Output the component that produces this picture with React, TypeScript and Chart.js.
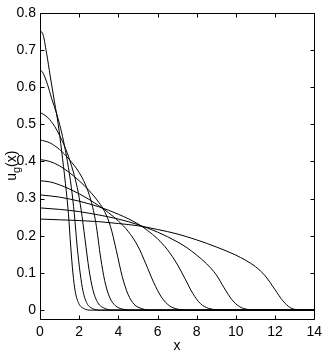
import React, { useEffect, useRef } from 'react';
import { Chart, registerables } from 'chart.js';

Chart.register(...registerables);

const FONT = "'Liberation Sans', Arial, Helvetica, sans-serif";

const xMin = 0;
const xMax = 14;
const yMin = -0.023;
const yMax = 0.8;
const xTicks = [0, 2, 4, 6, 8, 10, 12, 14];
const xTickLabels = ['0', '2', '4', '6', '8', '10', '12', '14'];
const yTicks = [0, 0.1, 0.2, 0.3, 0.4, 0.5, 0.6, 0.7, 0.8];
const yTickLabels = ['0', '0.1', '0.2', '0.3', '0.4', '0.5', '0.6', '0.7', '0.8'];
const xTitle = 'x';
const yTitleMain = 'u';
const yTitleSub = 'g';
const yTitleTail = '(x)';

// Profiles u_g(x) as [x, u] pairs
const curveA: [number, number][] = [
  [0, 0.75], [0.13, 0.745], [0.34, 0.69], [0.52, 0.63], [0.74, 0.56], [0.93, 0.5],
  [1.1, 0.43], [1.3, 0.34], [1.45, 0.26], [1.57, 0.17], [1.68, 0.1], [1.8, 0.05],
  [1.98, 0.018], [2.25, 0.004], [2.6, 0], [14, 0],
];
const curveB: [number, number][] = [
  [0, 0.645], [0.13, 0.64], [0.39, 0.606], [0.59, 0.57], [0.84, 0.53], [1.0, 0.5],
  [1.2, 0.455], [1.4, 0.4], [1.6, 0.33], [1.75, 0.26], [1.9, 0.17], [2.05, 0.1],
  [2.2, 0.05], [2.4, 0.018], [2.7, 0.004], [3.1, 0], [14, 0],
];
const curveC: [number, number][] = [
  [0, 0.532], [0.4, 0.518], [0.75, 0.494], [1.0, 0.47], [1.3, 0.435], [1.6, 0.39],
  [1.9, 0.33], [2.1, 0.27], [2.3, 0.19], [2.5, 0.11], [2.7, 0.055], [2.95, 0.02],
  [3.3, 0.005], [3.7, 0], [14, 0],
];
const curveD: [number, number][] = [
  [0, 0.458], [0.5, 0.45], [1.0, 0.432], [1.5, 0.405], [2.0, 0.37], [2.3, 0.34],
  [2.6, 0.295], [2.85, 0.235], [3.1, 0.14], [3.3, 0.08], [3.55, 0.035], [3.85, 0.012],
  [4.2, 0.003], [4.6, 0], [14, 0],
];
const curveE: [number, number][] = [
  [0, 0.405], [0.5, 0.4], [1.0, 0.388], [1.5, 0.37], [2.0, 0.348], [2.5, 0.322],
  [3.0, 0.29], [3.3, 0.265], [3.6, 0.225], [3.9, 0.16], [4.2, 0.09], [4.5, 0.042],
  [4.8, 0.016], [5.2, 0.004], [5.6, 0], [14, 0],
];
const curveF: [number, number][] = [
  [0, 0.348], [0.5, 0.345], [1.0, 0.337], [1.5, 0.326], [2.0, 0.313], [2.5, 0.298],
  [3.0, 0.281], [3.5, 0.262], [4.0, 0.24], [4.5, 0.212], [5.0, 0.172], [5.4, 0.125],
  [5.8, 0.075], [6.2, 0.035], [6.6, 0.012], [7.0, 0.003], [7.5, 0], [14, 0],
];
const curveG: [number, number][] = [
  [0, 0.31], [1, 0.304], [2, 0.293], [3, 0.278], [4, 0.258], [5, 0.232], [5.5, 0.214],
  [6, 0.192], [6.5, 0.163], [7, 0.124], [7.4, 0.085], [7.8, 0.045], [8.2, 0.017],
  [8.6, 0.005], [9, 0.001], [9.5, 0], [14, 0],
];
const curveH: [number, number][] = [
  [0, 0.275], [1, 0.271], [2, 0.265], [3, 0.256], [4, 0.245], [5, 0.23], [6, 0.21],
  [7, 0.184], [7.5, 0.168], [8, 0.148], [8.5, 0.125], [9, 0.095], [9.4, 0.06],
  [9.8, 0.028], [10.2, 0.009], [10.6, 0.002], [11, 0], [14, 0],
];
const curveI: [number, number][] = [
  [0, 0.245], [1, 0.243], [2, 0.241], [3, 0.238], [4, 0.233], [5, 0.227], [6, 0.217],
  [7, 0.205], [8, 0.189], [9, 0.17], [10, 0.148], [10.5, 0.134], [11, 0.117],
  [11.5, 0.092], [12, 0.055], [12.4, 0.025], [12.8, 0.006], [13.2, 0.001], [14, 0],
];

const curves = [curveA, curveB, curveC, curveD, curveE, curveF, curveG, curveH, curveI];

const framePlugin = {
  id: 'frame',
  afterDraw(chart: any) {
    const { ctx, chartArea: a, scales } = chart;
    const xs = scales.x;
    const ys = scales.y;
    ctx.save();
    ctx.strokeStyle = '#000';
    ctx.lineWidth = 1;
    const l = Math.round(a.left) + 0.5;
    const r = Math.round(a.right) + 0.5;
    const t = Math.round(a.top) + 0.5;
    const b = Math.round(a.bottom) + 0.5;
    ctx.beginPath();
    ctx.rect(l, t, r - l, b - t);
    const L = 4;
    for (const v of xTicks) {
      const px = Math.round(xs.getPixelForValue(v)) + 0.5;
      ctx.moveTo(px, b);
      ctx.lineTo(px, b - L);
      ctx.moveTo(px, t);
      ctx.lineTo(px, t + L);
    }
    for (const v of yTicks) {
      const py = Math.round(ys.getPixelForValue(v)) + 0.5;
      ctx.moveTo(l, py);
      ctx.lineTo(l + L, py);
      ctx.moveTo(r, py);
      ctx.lineTo(r - L, py);
    }
    ctx.stroke();

    ctx.fillStyle = '#000';
    ctx.font = `14px ${FONT}`;
    ctx.textAlign = 'center';
    ctx.textBaseline = 'alphabetic';
    ctx.fillText(xTitle, (a.left + a.right) / 2, 349.5);

    const mainF = `14px ${FONT}`;
    const subF = `11px ${FONT}`;
    ctx.font = mainF;
    const wU = ctx.measureText(yTitleMain).width;
    const wT = ctx.measureText(yTitleTail).width;
    ctx.font = subF;
    const wG = ctx.measureText(yTitleSub).width;
    const total = wU + wG + wT;
    ctx.translate(15.5, (a.top + a.bottom) / 2);
    ctx.rotate(-Math.PI / 2);
    ctx.textAlign = 'left';
    let x0 = -total / 2;
    ctx.font = mainF;
    ctx.fillText(yTitleMain, x0, 0);
    x0 += wU;
    ctx.font = subF;
    ctx.fillText(yTitleSub, x0, 4);
    x0 += wG;
    ctx.font = mainF;
    ctx.fillText(yTitleTail, x0, 0);
    ctx.restore();
  },
};

export default function App() {
  const ref = useRef<HTMLCanvasElement | null>(null);
  useEffect(() => {
    if (!ref.current) return;
    const chart = new Chart(ref.current, {
      type: 'line',
      data: {
        datasets: curves.map((c, i) => ({
          label: 'c' + i,
          data: c.map(([x, y]) => ({ x, y })),
          borderColor: '#000',
          borderWidth: 1,
          pointRadius: 0,
          fill: false,
          cubicInterpolationMode: 'monotone' as const,
        })),
      },
      options: {
        animation: false,
        responsive: true,
        maintainAspectRatio: false,
        layout: { padding: { top: 12.7, right: 12, left: 0, bottom: 0 } },
        plugins: { legend: { display: false }, tooltip: { enabled: false }, title: { display: false } },
        scales: {
          x: {
            type: 'linear',
            min: xMin,
            max: xMax,
            grid: { display: false, drawTicks: false },
            border: { display: false },
            afterBuildTicks: (axis: any) => {
              axis.ticks = xTicks.map((v) => ({ value: v }));
            },
            afterFit: (axis: any) => {
              axis.height = 35.3;
            },
            ticks: {
              autoSkip: false,
              maxRotation: 0,
              padding: 5,
              color: '#000',
              font: { family: FONT, size: 14 },
              callback: (_v: any, i: number) => xTickLabels[i],
            },
          },
          y: {
            type: 'linear',
            min: yMin,
            max: yMax,
            grid: { display: false, drawTicks: false },
            border: { display: false },
            afterBuildTicks: (axis: any) => {
              axis.ticks = yTicks.map((v) => ({ value: v }));
            },
            afterFit: (axis: any) => {
              axis.width = 40;
            },
            ticks: {
              autoSkip: false,
              padding: 4,
              color: '#000',
              font: { family: FONT, size: 14 },
              callback: (_v: any, i: number) => yTickLabels[i],
            },
          },
        },
      },
      plugins: [framePlugin],
    });
    return () => chart.destroy();
  }, []);
  return (
    <div style={{ position: 'absolute', left: 0, top: 0, width: '327px', height: '354px', background: '#fff' }}>
      <canvas ref={ref} />
    </div>
  );
}
